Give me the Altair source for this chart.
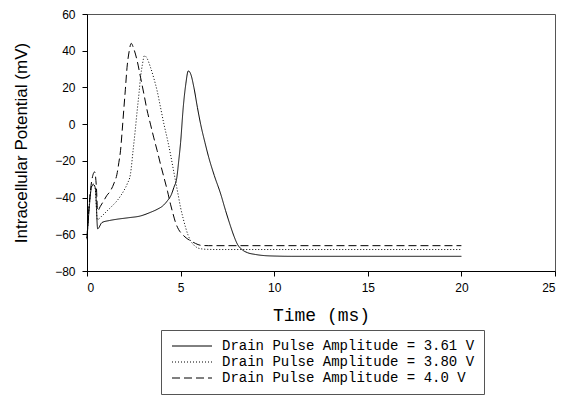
import altair as alt
import pandas as pd

# Series names
series = [
    "Drain Pulse Amplitude = 3.61 V",
    "Drain Pulse Amplitude = 3.80 V",
    "Drain Pulse Amplitude = 4.0 V",
]

# 3.61 V (solid)
t_361 = [0.0, 0.1, 0.25, 0.35, 0.45, 0.57, 0.8, 1.2, 1.6, 2.2, 2.86, 3.4, 3.75, 4.05, 4.29,
         4.5, 4.64, 4.8, 4.9, 5.0, 5.14, 5.28, 5.41, 5.55, 5.71, 5.9, 6.07, 6.3, 6.5, 6.8,
         7.14, 7.4, 7.68, 7.85, 8.04, 8.3, 8.57, 9.0, 9.46, 10.2, 10.9, 12.0, 15.0, 20.0]
v_361 = [-62.7, -48.0, -34.0, -33.0, -35.0, -57.0, -53.6, -52.5, -51.8, -51.0, -50.0, -48.0, -46.4, -44.5, -41.8,
         -38.5, -34.5, -29.0, -20.0, -10.0, 9.0, 22.0, 29.0, 27.0, 20.0, 9.0, 0.0, -10.0, -18.0, -28.0,
         -38.0, -47.0, -56.0, -61.0, -65.5, -68.5, -70.0, -71.0, -71.6, -71.9, -72.0, -72.0, -72.0, -72.0]

# 3.80 V (dotted)
t_380 = [0.0, 0.1, 0.25, 0.35, 0.45, 0.55, 0.8, 1.07, 1.35, 1.6, 1.8, 1.96, 2.15, 2.32, 2.46,
         2.58, 2.68, 2.78, 2.86, 2.96, 3.07, 3.2, 3.39, 3.57, 3.75, 3.93, 4.11, 4.3, 4.46,
         4.6, 4.73, 4.87, 5.0, 5.14, 5.27, 5.4, 5.54, 5.7, 5.89, 6.15, 6.43, 7.0, 10.0, 15.0, 20.0]
v_380 = [-62.0, -47.0, -33.5, -32.5, -36.0, -52.0, -50.0, -47.3, -44.5, -41.8, -39.0, -36.4, -32.5, -27.3, -14.5,
         -3.0, 7.3, 17.0, 25.5, 32.5, 37.3, 36.0, 31.0, 25.0, 18.0, 9.0, 0.0, -8.5, -16.4,
         -24.0, -31.0, -38.5, -45.5, -51.5, -56.4, -60.5, -63.6, -65.8, -67.3, -68.0, -68.2, -68.3, -68.3, -68.3, -68.3]

# 4.0 V (dashed)
t_400 = [0.0, 0.1, 0.25, 0.41, 0.5, 0.57, 0.7, 0.89, 1.05, 1.25, 1.45, 1.6, 1.7, 1.79,
         1.88, 1.96, 2.05, 2.14, 2.25, 2.36, 2.5, 2.68, 2.86, 3.04, 3.2, 3.39, 3.57, 3.75,
         3.93, 4.11, 4.3, 4.46, 4.6, 4.73, 4.9, 5.09, 5.3, 5.54, 5.8, 6.07, 6.5, 8.0, 12.0, 20.0]
v_400 = [-62.0, -46.0, -31.0, -26.0, -34.0, -47.3, -45.0, -41.8, -39.0, -36.4, -32.0, -27.3, -21.0, -14.5,
         -3.5, 7.3, 19.0, 31.0, 39.5, 44.0, 41.0, 34.5, 25.5, 16.4, 8.0, 0.0, -7.5, -14.5,
         -22.0, -29.0, -36.5, -43.6, -49.0, -53.6, -57.5, -60.0, -62.0, -63.6, -65.0, -66.0, -66.2, -66.2, -66.2, -66.2]

rows = []
for name, ts, vs in zip(series, [t_361, t_380, t_400], [v_361, v_380, v_400]):
    for i, (t, v) in enumerate(zip(ts, vs)):
        rows.append({"series": name, "t": t, "v": v, "order": i})
df = pd.DataFrame(rows)

FONT = "Liberation Sans"
WIDE = "Liberation Mono"

chart = alt.Chart(df).mark_line(color="black", strokeWidth=1, interpolate="monotone").encode(
    x=alt.X("t:Q", scale=alt.Scale(domain=[0, 25], nice=False),
            axis=alt.Axis(title="Time (ms)", values=[0, 5, 10, 15, 20, 25])),
    y=alt.Y("v:Q", scale=alt.Scale(domain=[-80, 60], nice=False),
            axis=alt.Axis(title="Intracellular Potential (mV)", values=[-80, -60, -40, -20, 0, 20, 40, 60])),
    strokeDash=alt.StrokeDash(
        "series:N",
        scale=alt.Scale(domain=series, range=[[1, 0], [1, 2], [8, 4]]),
        legend=alt.Legend(
            title=None,
            orient="none",
            legendX=74,
            legendY=316,
            direction="vertical",
            strokeColor="#555",
            padding=9,
            symbolType="M-4,0H4",
            symbolSize=100,
            symbolOffset=15,
            symbolStrokeColor="black",
            symbolStrokeWidth=1,
            labelFont=WIDE,
            labelFontSize=14,
            labelColor="black",
            labelOffset=23,
            labelLimit=500,
            rowPadding=2,
        ),
    ),
    order="order:Q",
).properties(
    width=468,
    height=257,
    padding={"left": 4, "top": 0, "right": 5, "bottom": 0},
).configure_view(
    stroke="#555", strokeWidth=1
).configure_axis(
    grid=False,
    domainColor="black",
    tickColor="black",
    tickSize=5,
    labelFont=FONT,
    labelFontSize=12,
    labelColor="black",
    titleFont=FONT,
    titleFontSize=17,
    titleFontWeight="normal",
    titleColor="black",
).configure_axisX(
    labelPadding=6, titlePadding=13, titleFont=WIDE, titleFontSize=18
).configure_axisY(
    labelPadding=7, titlePadding=24
)

chart.save("out.html", embed_options={"renderer": "svg", "actions": False})
